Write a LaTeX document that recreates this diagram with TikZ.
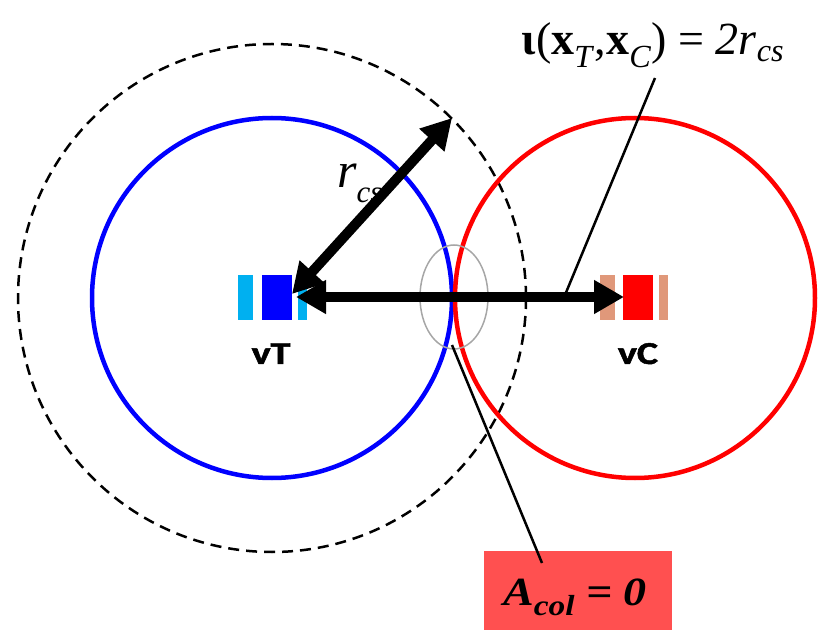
\documentclass[tikz,border=0pt]{standalone}
\usepackage{fontspec}
\setmainfont{Liberation Serif}
\newfontfamily\vehfont[BoldFeatures={FakeBold=1.5}]{Carlito}
\usetikzlibrary{arrows.meta,shapes.geometric}
\definecolor{lightblue}{HTML}{00B0F0}
\definecolor{pureblue}{HTML}{0000FF}
\definecolor{tan}{HTML}{E0987A}
\definecolor{purered}{HTML}{FF0000}
\definecolor{boxred}{HTML}{FF5050}
\definecolor{ellgray}{HTML}{A6A6A6}
\newcommand{\mysubs}[3]{\raisebox{-#2pt}{\fontsize{#1}{#1}\selectfont #3}}
\begin{document}
\begin{tikzpicture}[x=1pt,y=-1pt,
  rng/.style={line width=4.5pt},
  bar/.style={inner sep=0pt, minimum width=15pt, minimum height=45pt},
  body/.style={inner sep=0pt, minimum width=30pt, minimum height=45pt},
  vlabel/.style={inner sep=0pt, font=\vehfont\bfseries\fontsize{32}{32}\selectfont},
  bigarrow/.style={line width=10pt, {Triangle[length=30pt,width=32pt]}-{Triangle[length=30pt,width=32pt]}},
  leader/.style={line width=2.5pt}
]
\useasboundingbox (0,0) rectangle (831,639);
% circles
\draw[dashed, line width=2.5pt, dash pattern=on 11pt off 7pt] (272,298) circle[radius=254];
\draw[rng, pureblue] (272,298) circle[radius=180];
\draw[rng, purered] (635,298) circle[radius=180];
% collision ellipse
\node[draw=ellgray, line width=1.5pt, ellipse, minimum width=68pt, minimum height=104pt, inner sep=0pt] (zone) at (454,297) {};
% vehicle T
\node[bar, fill=lightblue] (tb1) at (245.5,297.5) {};
\node[body, fill=pureblue] (vT) at (277,297.5) {};
\node[bar, fill=lightblue, minimum width=9pt] (tb2) at (302.5,297.5) {};
\node[vlabel, anchor=base] (vTl) at (271,364) {\scalebox{1.25}[1]{vT}};
% vehicle C
\node[bar, fill=tan] (cb1) at (607,297.5) {};
\node[body, fill=purered] (vC) at (638,297.5) {};
\node[bar, fill=tan, minimum width=9pt] (cb2) at (663.5,297.5) {};
\node[vlabel, anchor=base] (vCl) at (638,364) {\scalebox{1.25}[1]{vC}};
% r_cs label
\node[anchor=base west, inner sep=0pt, font=\fontsize{50}{50}\selectfont\itshape] (rcs) at (337,188) {r\mysubs{31}{15}{cs}};
% arrows
\coordinate (dtip) at (452,118);
\coordinate (tstart) at (292,294);
\coordinate (hstart) at (296,297);
\coordinate (hend) at (624,297);
\draw[bigarrow] (tstart) -- (dtip);
\draw[bigarrow] (hstart) -- (hend);
% top label
\node[anchor=base, inner sep=0pt, font=\fontsize{46}{46}\selectfont] (dist) at (653,55) {\textbf{ι}(\textbf{x}\textsubscript{\textit{T}},\textbf{x}\textsubscript{\textit{C}}) = \textit{2r}\textsubscript{\textit{cs}}};
\coordinate (distfoot) at (655,78);
\coordinate (distend) at (565,295);
\draw[leader] (distfoot) -- (distend);
% bottom label
\node[fill=boxred, minimum width=188pt, minimum height=79pt, inner sep=0pt] (acol) at (578,590.5) {};
\node[anchor=base, inner sep=0pt, font=\fontsize{40}{40}\selectfont\bfseries\itshape] (acolt) at (575,605) {\scalebox{1.15}[1]{A\mysubs{29}{10}{col} = 0}};
\coordinate (acolfoot) at (542,563);
\coordinate (zonefoot) at (452,345);
\draw[leader] (zonefoot) -- (acolfoot);
\end{tikzpicture}
\end{document}
